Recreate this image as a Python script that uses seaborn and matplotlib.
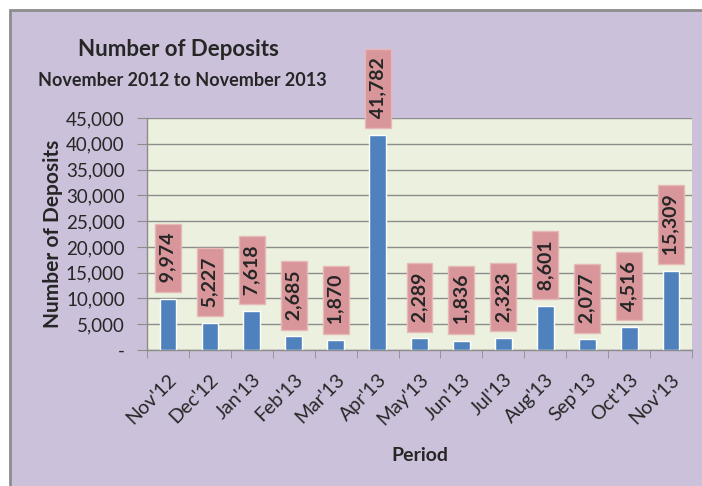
import matplotlib
matplotlib.use("Agg")
import matplotlib.pyplot as plt
import seaborn as sns
from matplotlib.patches import Rectangle
from matplotlib.ticker import FuncFormatter, FixedLocator

months = ["Nov'12", "Dec'12", "Jan'13", "Feb'13", "Mar'13", "Apr'13", "May'13",
          "Jun'13", "Jul'13", "Aug'13", "Sep'13", "Oct'13", "Nov'13"]
deposits = [9974, 5227, 7618, 2685, 1870, 41782, 2289, 1836, 2323, 8601, 2077, 4516, 15309]
y_ticks = [0, 5000, 10000, 15000, 20000, 25000, 30000, 35000, 40000, 45000]

sns.set_style("white")
plt.rcParams["font.family"] = ["Lato", "DejaVu Sans"]

fig = plt.figure(figsize=(7.02, 4.86), dpi=100)
fig.patch.set_facecolor("white")
# purple chart panel with grey frame
fig.patches.append(Rectangle((10 / 702, -0.05), 1.0, 0.05 + 1 - 10 / 486,
                             transform=fig.transFigure, facecolor="#CCC1DA",
                             edgecolor="#8C8C8C", linewidth=2, zorder=-10))

ax = fig.add_axes([147 / 702, 136 / 486, 545 / 702, 232 / 486])
ax.set_facecolor("#EBF1DE")

sns.barplot(x=months, y=deposits, color="#4F81BD", width=0.4, saturation=1, ax=ax, zorder=3)

ax.set_ylim(0, 45000)
ax.set_xlim(-0.5, len(months) - 0.5)
ax.yaxis.set_major_locator(FixedLocator(y_ticks))
ax.yaxis.set_major_formatter(FuncFormatter(lambda v, p: "-" if v == 0 else f"{v:,.0f}"))
ax.grid(axis="y", color="#8C8C8C", linewidth=1, zorder=0)
ax.set_axisbelow(True)

for s in ["top", "right"]:
    ax.spines[s].set_visible(False)
for s in ["left", "bottom"]:
    ax.spines[s].set_color("#8C8C8C")
    ax.spines[s].set_linewidth(1)

ax.tick_params(axis="y", length=7, color="#8C8C8C", labelsize=13.5, pad=9, left=True,
               labelcolor="#262626")
ax.set_xticks(range(len(months)))
ax.set_xticklabels(months, rotation=45, ha="right", rotation_mode="anchor", fontsize=14,
                   color="#262626")
ax.tick_params(axis="x", length=0, pad=15)
ax.set_xticks([i - 0.5 for i in range(len(months) + 1)], minor=True)
ax.tick_params(axis="x", which="minor", length=6, color="#8C8C8C", bottom=True)

for i, v in enumerate(deposits):
    ax.annotate(f" {v:,} ", xy=(i, v), xytext=(0, 8), textcoords="offset points",
                rotation=90, ha="center", va="bottom", fontsize=14, fontweight="bold",
                annotation_clip=False, zorder=5,
                bbox=dict(boxstyle="square,pad=0.23", facecolor="#D9969A", edgecolor="#E6B9B8"))

ax.set_ylabel("Number of Deposits", fontsize=15, fontweight="bold")
ax.set_xlabel("Period", fontsize=14, fontweight="bold")
ax.yaxis.set_label_coords(-0.155, 0.5)
ax.xaxis.set_label_coords(0.5, -0.418)

fig.text(178 / 702, 1 - 50 / 486, "Number of Deposits", ha="center", va="center",
         fontsize=16, fontweight="bold")
fig.text(182 / 702, 1 - 80 / 486, "November 2012 to November 2013", ha="center", va="center",
         fontsize=13, fontweight="bold")

fig.savefig("out.png", dpi=100, facecolor=fig.get_facecolor())
